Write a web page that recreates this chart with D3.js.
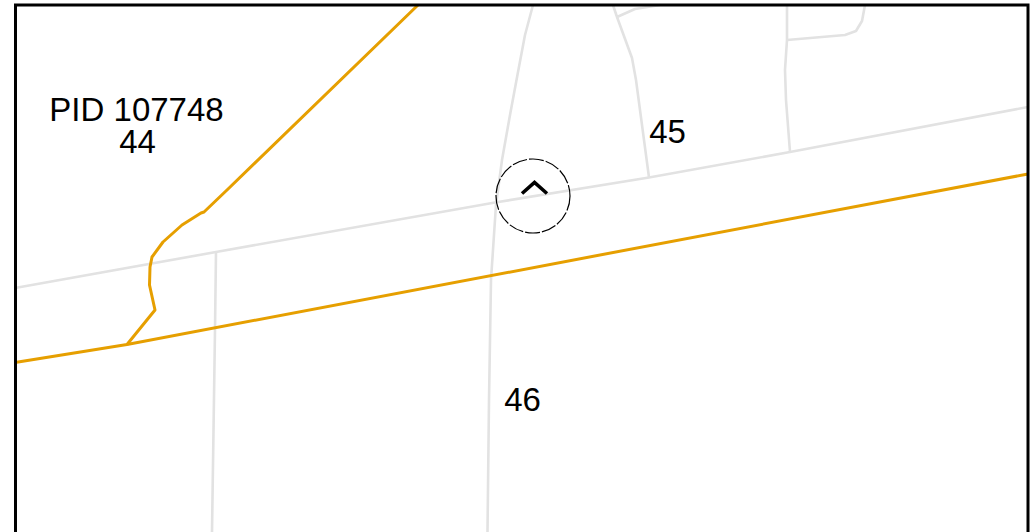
<!DOCTYPE html>
<html>
<head>
<meta charset="utf-8">
<script src="https://cdnjs.cloudflare.com/ajax/libs/d3/7.8.5/d3.min.js"></script>
<style>
  html, body { margin: 0; padding: 0; background: #fff; overflow: hidden; }
  svg { display: block; }
  text { font-family: "Liberation Sans", Arial, sans-serif; fill: #000; }
</style>
</head>
<body>
<svg width="1031" height="532"></svg>
<script>
// Map extent, in picture units
var extentX = [0, 1031];
var extentY = [0, 532];

// Parcel lines (grey)
var roadNorth = [[15, 288], [216, 252], [495, 202.5], [649, 177.5], [790, 152], [1028, 107]];
var lotWest = [[216, 252], [215, 330], [212, 532]];
var lotCentre = [[533, 5], [525, 35], [518, 72], [510, 115], [502, 160], [496, 205], [491, 280], [489, 400], [487.5, 532]];
var lotEast = [[613, 5], [617, 17], [632, 58], [636, 80], [640, 110], [649, 177.5]];
var lotEastBranch = [[617, 17], [635, 9], [660, 5]];
var lotFar = [[787, 5], [787, 40], [785, 70], [786, 100], [790, 152]];
var lotFarBranch = [[787, 40], [845, 35], [856, 31], [862, 21], [865, 5]];

// PID boundary (orange)
var roadSouth = [[15, 362.5], [127, 344.5], [1028, 174]];
var pidEdge = [[418, 5], [227, 190], [204, 212], [201, 213], [182, 225], [163, 242], [152, 257], [150, 267], [149.5, 285], [155, 310], [127, 344.5]];

// Labels
var labelText = ["PID 107748", "44", "45", "46"];
var labelX = [136.5, 137.5, 667.5, 522.5];
var labelY = [120.5, 153, 142.5, 410.5];

// Centre marker
var markerCentre = [533, 196];
var markerRadius = 37;
var caret = [[522, 193.5], [534.5, 182.5], [547, 193.5]];

var svg = d3.select("svg"),
    width = +svg.attr("width"),
    height = +svg.attr("height");

var x = d3.scaleLinear().domain(extentX).range([0, width]);
var y = d3.scaleLinear().domain(extentY).range([0, height]);

var line = d3.line()
    .x(function (d) { return x(d[0]); })
    .y(function (d) { return y(d[1]); });

var greyLines = [roadNorth, lotWest, lotCentre, lotEast, lotEastBranch, lotFar, lotFarBranch];
var orangeLines = [roadSouth, pidEdge];

// grey first, orange sits on top
svg.append("g").selectAll("path")
    .data(greyLines)
    .enter()
    .append("path")
    .attr("d", line)
    .attr("fill", "none")
    .attr("stroke", "#e2e2e2")
    .attr("stroke-width", 2.6)
    .attr("stroke-linejoin", "round");

svg.append("g").selectAll("path")
    .data(orangeLines)
    .enter()
    .append("path")
    .attr("d", line)
    .attr("fill", "none")
    .attr("stroke", "#E69F00")
    .attr("stroke-width", 3)
    .attr("stroke-linejoin", "round");

svg.append("circle")
    .attr("cx", x(markerCentre[0]))
    .attr("cy", y(markerCentre[1]))
    .attr("r", markerRadius)
    .attr("fill", "none")
    .attr("stroke", "#000")
    .attr("stroke-width", 1.2)
    .attr("stroke-dasharray", "15 2");

svg.append("path")
    .attr("d", line(caret))
    .attr("fill", "none")
    .attr("stroke", "#000")
    .attr("stroke-width", 3.6);

svg.append("g").selectAll("text")
    .data(labelText)
    .enter()
    .append("text")
    .attr("x", function (d, i) { return x(labelX[i]); })
    .attr("y", function (d, i) { return y(labelY[i]); })
    .attr("text-anchor", "middle")
    .style("font-size", "33px")
    .text(function (d) { return d; });

// panel border, bottom edge falls outside the window
svg.append("rect")
    .attr("x", x(15.5))
    .attr("y", y(5))
    .attr("width", x(1028) - x(15.5))
    .attr("height", 560)
    .attr("fill", "none")
    .attr("stroke", "#000")
    .attr("stroke-width", 3);
</script>
</body>
</html>
